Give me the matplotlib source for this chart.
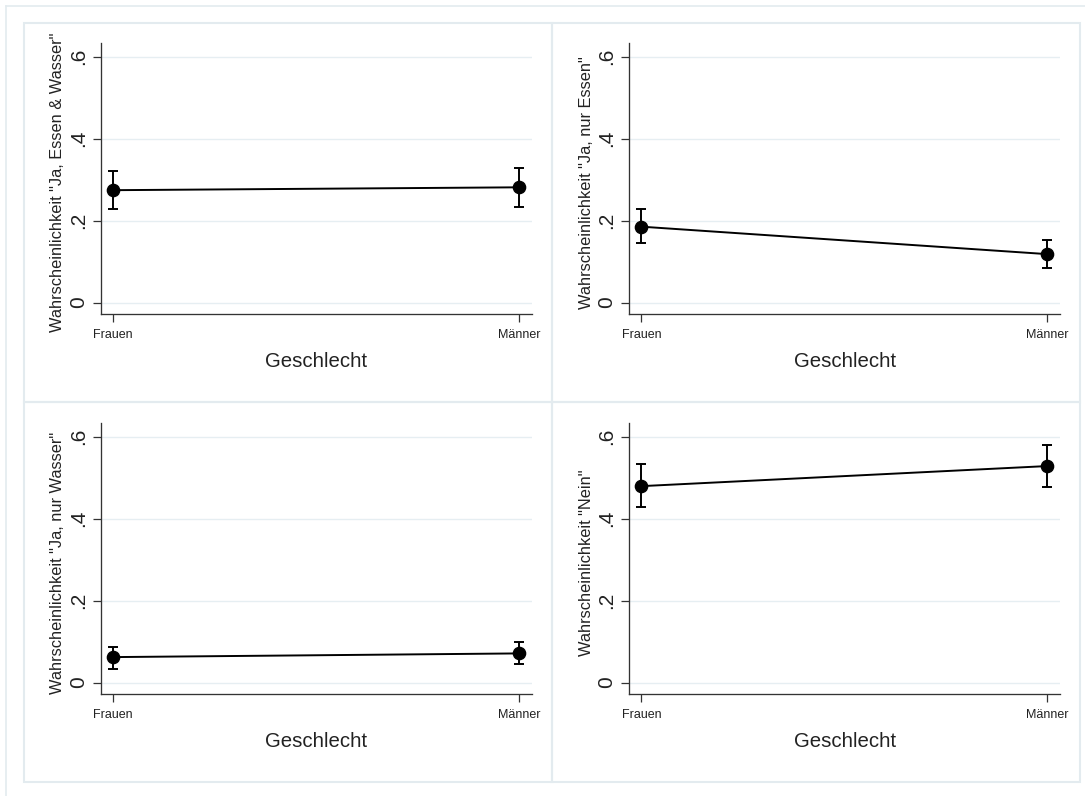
import matplotlib

matplotlib.use("Agg")

import matplotlib.pyplot as plt  # noqa: E402
from matplotlib.lines import Line2D  # noqa: E402
from matplotlib.patches import Rectangle  # noqa: E402

plt.rcParams["font.family"] = ["Liberation Sans", "DejaVu Sans"]

# predicted probabilities with 95% CIs, by gender
categories = ["Frauen", "Männer"]
ylabels = [
    'Wahrscheinlichkeit "Ja, Essen & Wasser"',
    'Wahrscheinlichkeit "Ja, nur Essen"',
    'Wahrscheinlichkeit "Ja, nur Wasser"',
    'Wahrscheinlichkeit "Nein"',
]
means = [[0.274, 0.281], [0.185, 0.118], [0.062, 0.071], [0.479, 0.528]]
lower = [[0.228, 0.234], [0.145, 0.085], [0.032, 0.045], [0.427, 0.477]]
upper = [[0.320, 0.327], [0.227, 0.153], [0.087, 0.099], [0.532, 0.580]]
yticks = [0, 0.2, 0.4, 0.6]
ytick_labels = ["0", ".2", ".4", ".6"]
xlabel = "Geschlecht"

W, H = 1085, 796
fig = plt.figure(figsize=(W / 100, H / 100), dpi=100)
fig.patch.set_facecolor("white")

GRID = "#e6eef2"
FRAME = "#e3ebef"
INK = "black"

# outer frame (only top/left edge visible) and panel frames
fig.add_artist(Line2D([6 / W, 1], [1 - 6 / H, 1 - 6 / H], color=FRAME, lw=1.2))
fig.add_artist(Line2D([6 / W, 6 / W], [0, 1 - 6 / H], color=FRAME, lw=1.2))

panels = [(24, 23, 552, 402), (552, 23, 1080, 402),
          (24, 402, 552, 782), (552, 402, 1080, 782)]
for x0, y0, x1, y1 in panels:
    fig.add_artist(Rectangle((x0 / W, 1 - y1 / H), (x1 - x0) / W, (y1 - y0) / H,
                             transform=fig.transFigure, fill=False,
                             edgecolor=FRAME, lw=1.5))

# axes boxes in pixels: left, top, right, bottom
boxes = [(100.7, 43, 531.7, 314), (629.3, 43, 1060, 314),
         (100.7, 423, 531.7, 694), (629.3, 423, 1060, 694)]

x = list(range(len(categories)))
for i, (l, t, r, b) in enumerate(boxes):
    ax = fig.add_axes([l / W, 1 - b / H, (r - l) / W, (b - t) / H])
    ax.set_facecolor("white")
    for y in yticks:
        ax.axhline(y, color=GRID, lw=1.0, zorder=0)
    yerr = [[m - lo for m, lo in zip(means[i], lower[i])],
            [hi - m for m, hi in zip(means[i], upper[i])]]
    ax.errorbar(x, means[i], yerr=yerr, fmt="none", ecolor=INK,
                elinewidth=1.4, capsize=3.8, capthick=1.4, zorder=2)
    ax.plot(x, means[i], color=INK, lw=1.4, marker="o", markersize=8.8,
            markerfacecolor=INK, markeredgecolor=INK, zorder=3)
    ax.set_xlim(-0.030, 1.031)
    ax.set_ylim(-0.028, 0.633)
    ax.set_xticks(x)
    ax.set_xticklabels(categories, fontsize=9, color="#222222")
    ax.set_yticks(yticks)
    ax.set_yticklabels(ytick_labels, fontsize=15, color="#222222",
                       rotation=90, va="center")
    ax.tick_params(axis="x", length=5.8, width=0.9, pad=4.8, color="#333333")
    ax.tick_params(axis="y", length=5.8, width=0.9, pad=3.6, color="#333333")
    for s in ("top", "right"):
        ax.spines[s].set_visible(False)
    for s in ("left", "bottom"):
        ax.spines[s].set_color("#333333")
        ax.spines[s].set_linewidth(0.95)

    # y label (baseline ~39 px left of the axis) and x label
    fig.text((l - 38.7) / W, 1 - ((t + b) / 2 + 4) / H, ylabels[i],
             rotation=90, rotation_mode="anchor", ha="center", va="baseline",
             fontsize=11.8, color="#222222")
    fig.text((l + r) / 2 / W, 1 - (b + 53) / H, xlabel,
             ha="center", va="baseline", fontsize=14.7, color="#222222")

fig.savefig("out.png", dpi=100, facecolor="white")
plt.close(fig)
